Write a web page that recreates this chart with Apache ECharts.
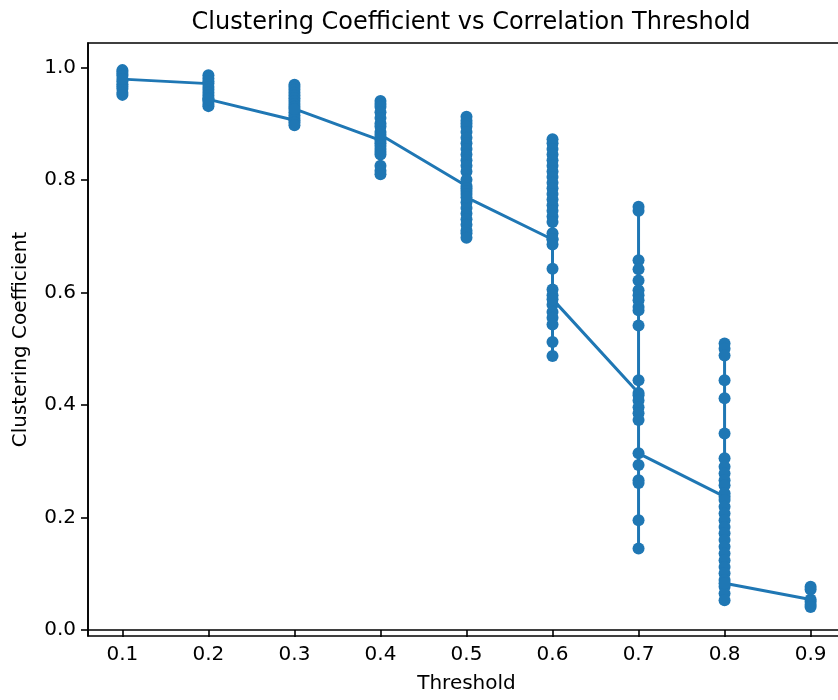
<!DOCTYPE html>
<html>
<head>
<meta charset="utf-8">
<script src="https://cdn.jsdelivr.net/npm/echarts@6/dist/echarts.min.js"></script>
<style>html,body{margin:0;padding:0;background:#fff;}#chart{width:838px;height:700px;}</style>
</head>
<body>
<div id="chart"></div>
<script>
// Thresholds (x) and clustering coefficients per threshold, in plotting order
const thresholds = [0.1, 0.2, 0.3, 0.4, 0.5, 0.6, 0.7, 0.8, 0.9];
const c01 = [0.995, 0.992, 0.988, 0.985, 0.975, 0.970, 0.966, 0.962, 0.955, 0.951, 0.979];
const c02 = [0.971, 0.986, 0.980, 0.975, 0.965, 0.960, 0.955, 0.950, 0.945, 0.940, 0.935, 0.931, 0.943];
const c03 = [0.906, 0.969, 0.965, 0.960, 0.955, 0.950, 0.945, 0.940, 0.935, 0.930, 0.920, 0.915, 0.910, 0.902, 0.897, 0.926];
const c04 = [0.870, 0.940, 0.935, 0.930, 0.920, 0.910, 0.900, 0.895, 0.885, 0.875, 0.865, 0.860, 0.855, 0.850, 0.845, 0.825, 0.816, 0.810, 0.880];
const c05 = [0.789, 0.912, 0.905, 0.900, 0.895, 0.885, 0.875, 0.865, 0.855, 0.845, 0.835, 0.825, 0.815, 0.800, 0.785, 0.780, 0.775, 0.760, 0.750, 0.740, 0.730, 0.720, 0.710, 0.705, 0.697, 0.769];
const c06 = [0.694, 0.872, 0.865, 0.855, 0.845, 0.835, 0.825, 0.815, 0.805, 0.795, 0.785, 0.775, 0.765, 0.755, 0.745, 0.735, 0.725, 0.705, 0.695, 0.685, 0.642, 0.605, 0.595, 0.578, 0.565, 0.555, 0.543, 0.512, 0.487, 0.588];
const c07 = [0.421, 0.752, 0.745, 0.657, 0.641, 0.621, 0.604, 0.595, 0.586, 0.574, 0.568, 0.541, 0.444, 0.417, 0.408, 0.396, 0.385, 0.373, 0.293, 0.266, 0.261, 0.195, 0.145, 0.314];
const c08 = [0.237, 0.509, 0.500, 0.488, 0.444, 0.412, 0.349, 0.305, 0.290, 0.278, 0.266, 0.257, 0.243, 0.231, 0.219, 0.207, 0.195, 0.183, 0.172, 0.160, 0.148, 0.136, 0.124, 0.112, 0.101, 0.089, 0.077, 0.065, 0.053, 0.083];
const c09 = [0.054, 0.077, 0.072, 0.050, 0.045, 0.041];
const groups = [c01, c02, c03, c04, c05, c06, c07, c08, c09];
const xTicks = [0.1, 0.2, 0.3, 0.4, 0.5, 0.6, 0.7, 0.8, 0.9];
const yTicks = [0.0, 0.2, 0.4, 0.6, 0.8, 1.0];

const data = [];
thresholds.forEach((t, i) => groups[i].forEach(v => data.push([t, v])));

const FONT = 'DejaVu Sans';
const chart = echarts.init(document.getElementById('chart'), null, {renderer: 'canvas'});
chart.setOption({
  animation: false,
  backgroundColor: '#ffffff',
  title: {
    text: 'Clustering Coefficient vs Correlation Threshold',
    left: 466, top: 6, textAlign: 'center',
    textStyle: {fontFamily: FONT, fontSize: 24, fontWeight: 'normal', color: '#000'}
  },
  grid: {
    left: 88, top: 43, width: 757, height: 593,
    outerBoundsMode: 'none', containLabel: false,
    show: true, borderColor: '#000', borderWidth: 1.6, backgroundColor: 'transparent'
  },
  xAxis: {
    type: 'value', min: 0.06, max: 0.94,
    name: 'Threshold', nameLocation: 'middle', nameGap: 38,
    nameTextStyle: {fontFamily: FONT, fontSize: 20, color: '#000'},
    axisLine: {show: true, lineStyle: {color: '#000', width: 1.6}},
    axisTick: {show: true, length: 7, customValues: xTicks, lineStyle: {color: '#000', width: 1.6}},
    axisLabel: {customValues: xTicks, margin: 9, fontFamily: FONT, fontSize: 20, color: '#000',
      formatter: v => v.toFixed(1)},
    splitLine: {show: false}
  },
  yAxis: {
    type: 'value', min: -0.0107, max: 1.0432,
    name: 'Clustering Coefficient', nameLocation: 'middle', nameGap: 57, nameRotate: 90,
    nameTextStyle: {fontFamily: FONT, fontSize: 20, color: '#000'},
    axisLine: {show: true, lineStyle: {color: '#000', width: 1.6}},
    axisTick: {show: true, length: 7, customValues: yTicks, lineStyle: {color: '#000', width: 1.6}},
    axisLabel: {customValues: yTicks, margin: 12, fontFamily: FONT, fontSize: 20, color: '#000',
      formatter: v => v.toFixed(1)},
    splitLine: {show: false}
  },
  series: [{
    type: 'line',
    data: data,
    showSymbol: true, showAllSymbol: true,
    symbol: 'circle', symbolSize: 12,
    itemStyle: {color: '#1f77b4'},
    lineStyle: {color: '#1f77b4', width: 3},
    emphasis: {disabled: true}
  }]
});
</script>
</body>
</html>
